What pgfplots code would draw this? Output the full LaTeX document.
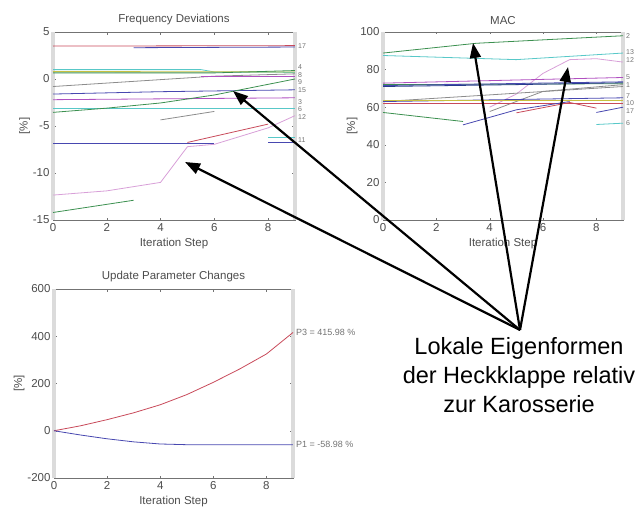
\documentclass[border=0pt]{standalone}
\usepackage{pgfplots}
\pgfplotsset{compat=1.18}
\usepackage{fontspec}
\setmainfont{Liberation Sans}
\usetikzlibrary{arrows.meta}
\definecolor{cR}{HTML}{C84A5A}
\definecolor{cB}{HTML}{4848B0}
\definecolor{cDB}{HTML}{283C8C}
\definecolor{cG}{HTML}{3C9050}
\definecolor{cC}{HTML}{58C8C8}
\definecolor{cM}{HTML}{B050C0}
\definecolor{cP}{HTML}{D8A0D8}
\definecolor{cY}{HTML}{C8C040}
\definecolor{cK}{HTML}{8C8C8C}
\tikzset{rl/.style={font=\fontsize{7}{7}\selectfont, text=black!55, anchor=west, inner sep=0.3pt}}
\pgfplotsset{
  matstyle/.style={
    scale only axis, xmin=0, xmax=9, xtick={0,2,4,6,8},
    axis line style={black!55}, tick style={black!55},
    tick align=inside, major tick length=2.5pt,
    clip=false,
    /pgf/number format/assume math mode=true,
    ticklabel style={font=\fontsize{11.5}{12}\selectfont, text=black!70},
    label style={font=\fontsize{11.5}{12}\selectfont, text=black!70},
    title style={font=\fontsize{11.5}{12}\selectfont, text=black!70, yshift=-2pt},
    xlabel={Iteration Step}, ylabel={[\%]},
    ylabel style={yshift=-4pt},
    every axis plot/.append style={line width=0.8pt, no marks},
  },
}
\newcommand{\bands}{%
  \draw[black!14, line width=4pt] (rel axis cs:0,0) -- (rel axis cs:0,1);
  \draw[black!14, line width=4pt] (rel axis cs:1,0) -- (rel axis cs:1,1);
}
\begin{document}
\begin{tikzpicture}
\path[use as bounding box] (0pt,0pt) rectangle (639pt,512pt);

% Frequency deviations
\begin{axis}[matstyle, at={(53pt,292pt)}, anchor=south west, width=242pt, height=188pt,
  ymin=-15, ymax=5, ytick={-15,-10,-5,0,5}, title={Frequency Deviations}]
\bands
\addplot[cR] coordinates {(0,3.5)(9,3.55)};
\addplot[cB] coordinates {(3,3.33)(9,3.4)};
\addplot[cC] coordinates {(0,1.0)(5.5,1.0)(6,0.75)(9,0.7)};
\addplot[cY] coordinates {(0,0.8)(9,0.75)};
\addplot[cG] coordinates {(0,0.65)(6,0.65)(9,0.9)};
\addplot[cK] coordinates {(0,-0.8)(6,0.3)(9,0.55)};
\addplot[cM] coordinates {(5.5,0.25)(9,0.25)};
\addplot[cB] coordinates {(0,-1.6)(4,-1.35)(9,-1.15)};
\addplot[cM] coordinates {(0,-2.2)(9,-2.0)};
\addplot[cC] coordinates {(0,-3.1)(9,-3.1)};
\addplot[cG] coordinates {(0,-3.55)(2,-3.1)(4,-2.55)(6,-1.7)(9,0.0)};
\addplot[cK] coordinates {(4,-4.35)(6,-3.45)};
\addplot[cR] coordinates {(5,-6.75)(8,-4.8)};
\addplot[cP] coordinates {(0,-12.35)(2,-11.9)(4,-11.0)(5,-7.2)(6,-6.95)(8,-5.2)(9,-3.9)};
\addplot[cB] coordinates {(0,-6.85)(6,-6.85)};
\addplot[cB] coordinates {(8,-6.7)(9,-6.7)};
\addplot[cC] coordinates {(8,-6.25)(9,-6.25)};
\addplot[cG] coordinates {(0,-14.2)(3,-12.9)};
\node[rl] at (axis cs:9.1,3.5) {17};
\node[rl] at (axis cs:9.1,1.25) {4};
\node[rl] at (axis cs:9.1,0.45) {8};
\node[rl] at (axis cs:9.1,-0.35) {9};
\node[rl] at (axis cs:9.1,-1.2) {15};
\node[rl] at (axis cs:9.1,-2.45) {3};
\node[rl] at (axis cs:9.1,-3.25) {6};
\node[rl] at (axis cs:9.1,-4.05) {12};
\node[rl] at (axis cs:9.1,-6.45) {11};
\end{axis}

% MAC
\begin{axis}[matstyle, at={(383pt,292pt)}, anchor=south west, width=240pt, height=188pt,
  ymin=0, ymax=100, ytick={0,20,40,60,80,100}, title={MAC}]
\bands
\addplot[cG] coordinates {(0,88.8)(3.5,94)(9,98)};
\addplot[cC] coordinates {(0,87.5)(5,85.3)(9,88.8)};
\addplot[cP] coordinates {(4,60)(5,67)(6,78)(7,85.3)(8,85.8)(9,84)};
\addplot[cM] coordinates {(0,72.8)(9,75.8)};
\addplot[cG] coordinates {(0,72)(9,72.5)};
\addplot[cB] coordinates {(0,71.5)(9,73.5)};
\addplot[cDB] coordinates {(0,71)(5,72)(9,73)};
\addplot[cK] coordinates {(4,57.7)(6,68.4)(9,72)};
\addplot[cK] coordinates {(0,63)(9,71)};
\addplot[cB] coordinates {(0,63)(9,65)};
\addplot[cY] coordinates {(0,63.5)(9,63.5)};
\addplot[cR] coordinates {(0,62)(9,62)};
\addplot[cG] coordinates {(0,57.2)(3,52.4)};
\addplot[cB] coordinates {(3,50.6)(5,58.6)(7,63)};
\addplot[cR] coordinates {(5,57)(7,62.5)(8,59.5)};
\addplot[cB] coordinates {(8,57.2)(9,60)};
\addplot[cC] coordinates {(8,50.8)(9,51.5)};
\node[rl] at (axis cs:9.1,98) {2};
\node[rl] at (axis cs:9.1,89.5) {13};
\node[rl] at (axis cs:9.1,85) {12};
\node[rl] at (axis cs:9.1,76) {5};
\node[rl] at (axis cs:9.1,72) {1};
\node[rl] at (axis cs:9.1,66) {7};
\node[rl] at (axis cs:9.1,62) {10};
\node[rl] at (axis cs:9.1,58) {17};
\node[rl] at (axis cs:9.1,51.5) {6};
\end{axis}

% Update parameter changes
\begin{axis}[matstyle, at={(54pt,34pt)}, anchor=south west, width=239pt, height=189pt,
  ymin=-200, ymax=600, ytick={-200,0,200,400,600}, title={Update Parameter Changes}]
\bands
\addplot[cR] coordinates {(0,0)(1,21)(2,47)(3,76)(4,110)(5,153)(6,205)(7,262)(8,325)(9,415.98)};
\addplot[cB] coordinates {(0,0)(1,-18)(2,-34)(3,-47)(4,-56)(5,-59)(9,-58.98)};
\node[rl, font=\fontsize{9}{9}\selectfont] at (axis cs:9.1,415.98) {P3 = 415.98 \%};
\node[rl, font=\fontsize{9}{9}\selectfont] at (axis cs:9.1,-58.98) {P1 = -58.98 \%};
\end{axis}

% Annotation
\begin{scope}[x=1pt,y=1pt]
\foreach \tx/\ty in {233/91, 185/162, 473/43, 568/67}{
  \draw[line width=2.2pt, -{Triangle[length=15pt,width=11pt]}] (520,182) -- (\tx,512-\ty);
}
\node[align=center, font=\fontsize{23.5}{29}\selectfont, anchor=north, inner sep=0pt]
  at (519,512-337) {Lokale Eigenformen\\der Heckklappe relativ\\zur Karosserie};
\end{scope}
\end{tikzpicture}
\end{document}
